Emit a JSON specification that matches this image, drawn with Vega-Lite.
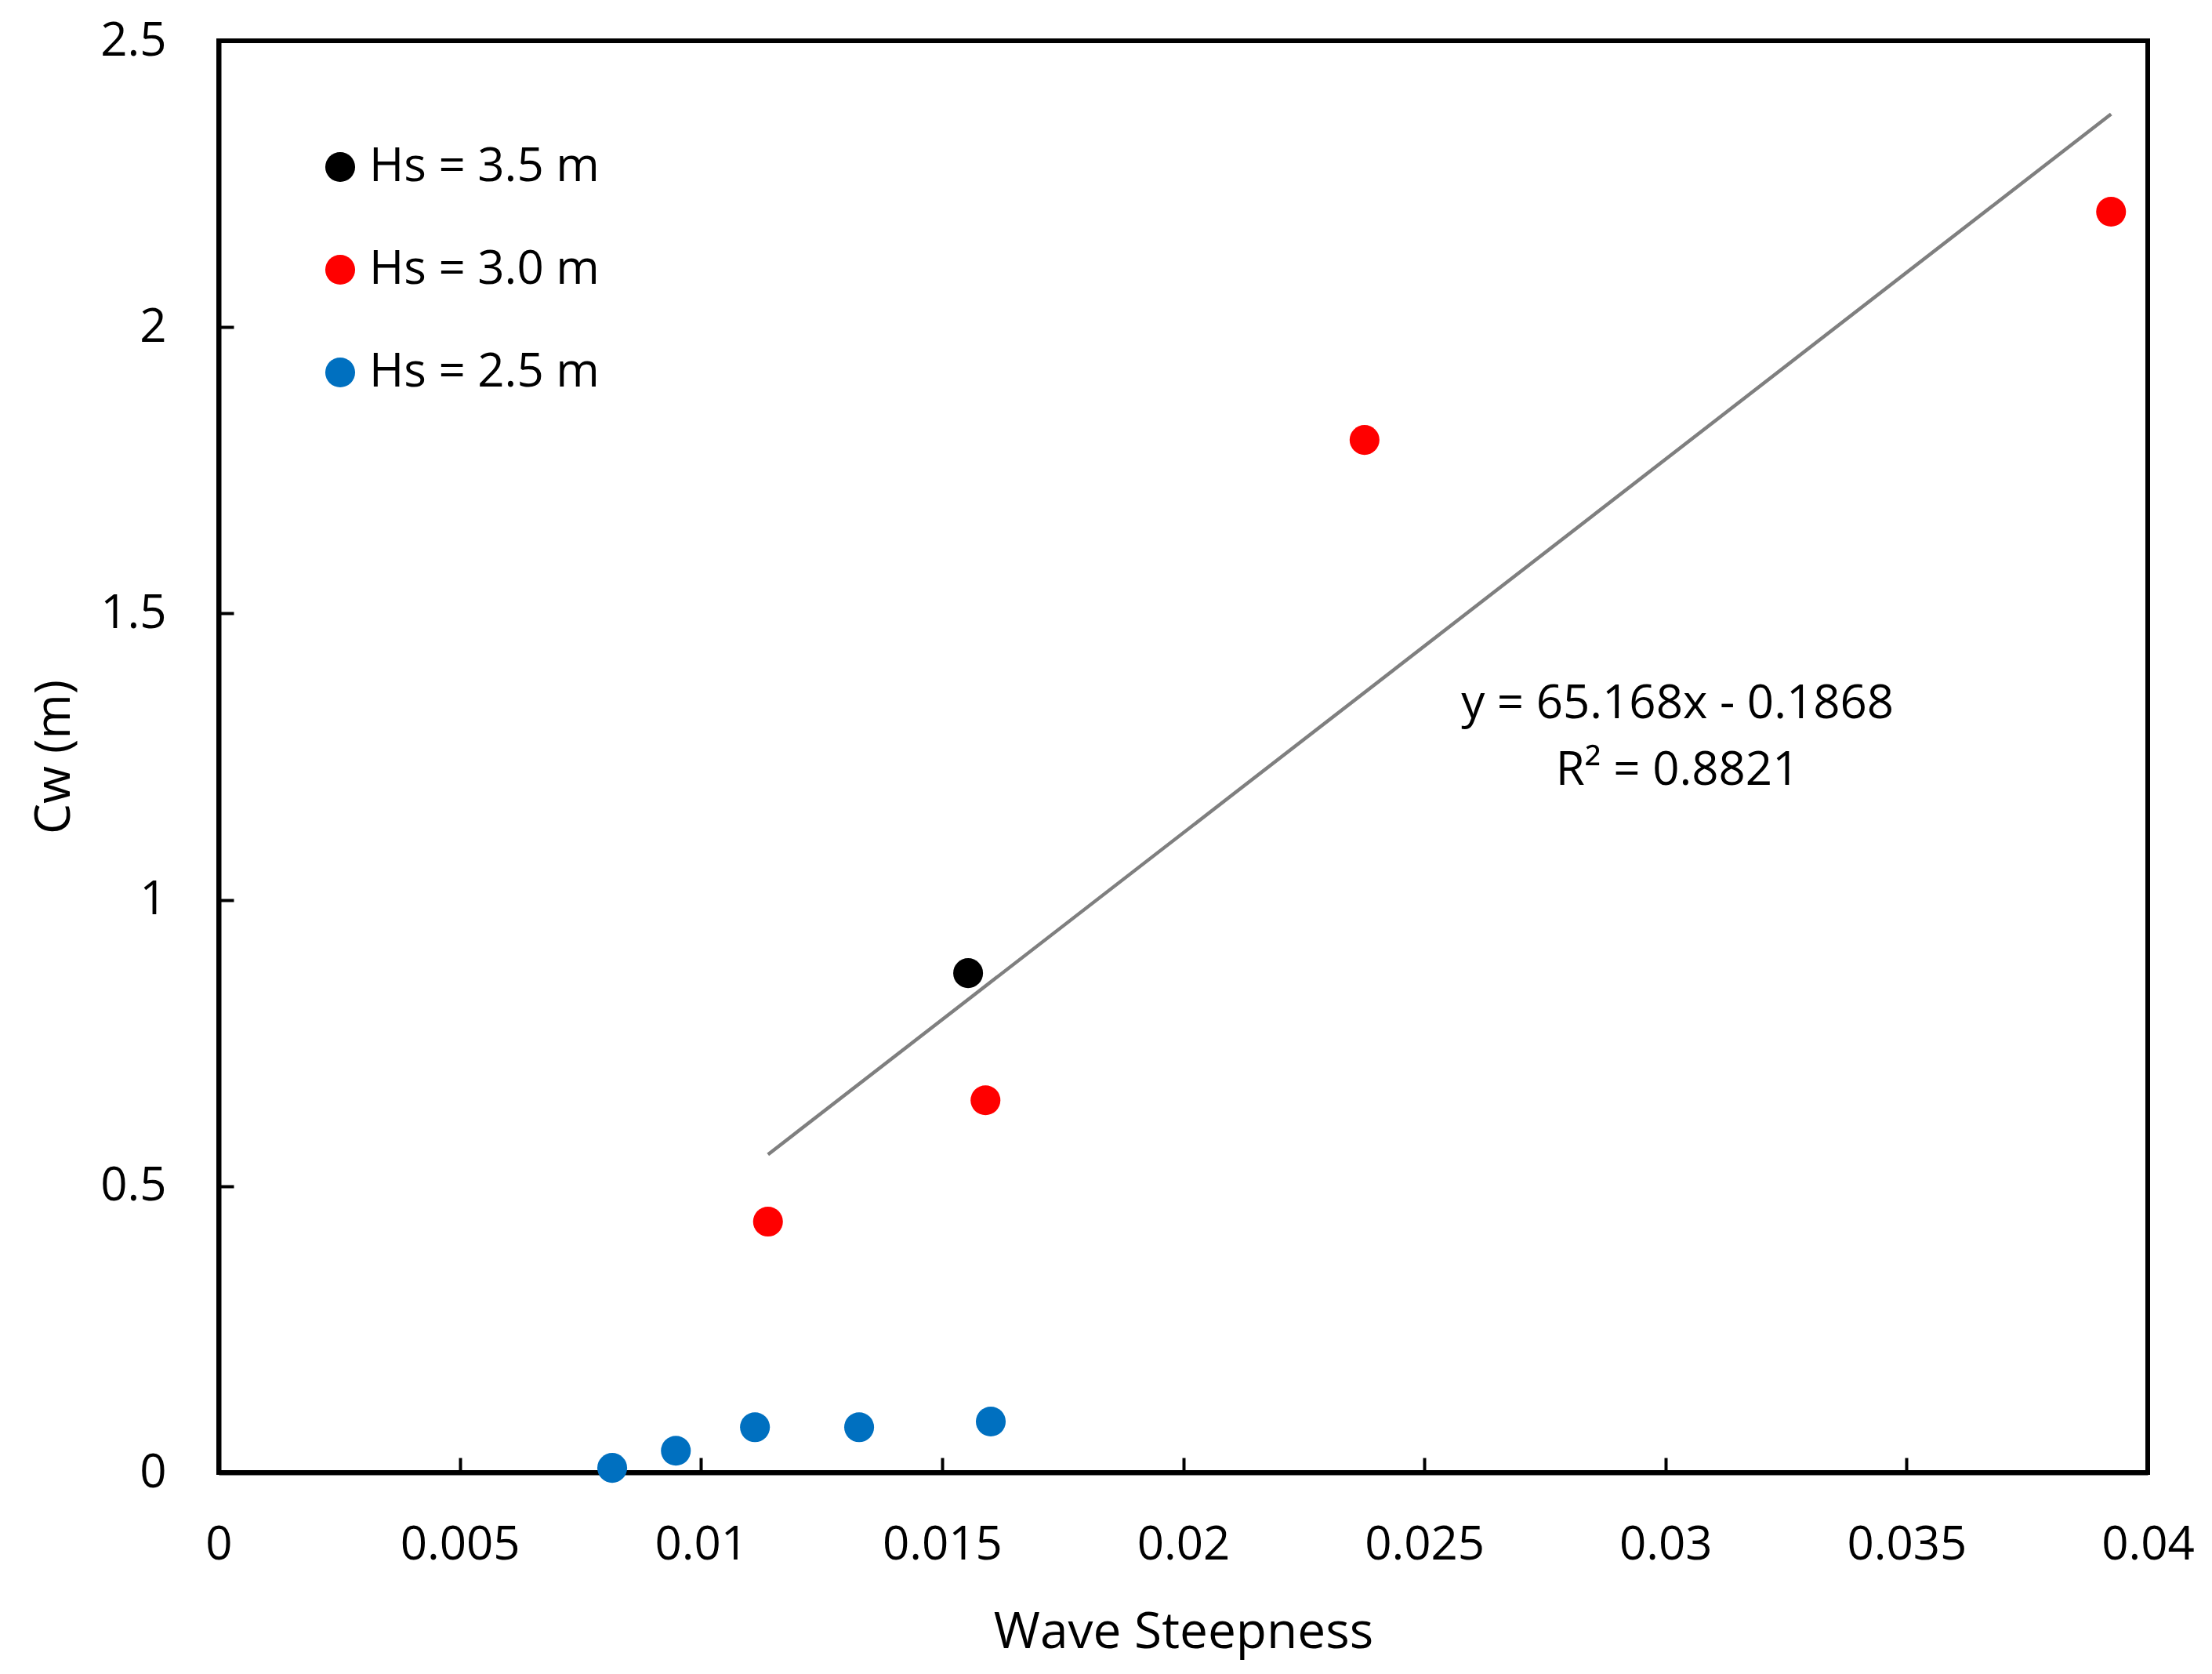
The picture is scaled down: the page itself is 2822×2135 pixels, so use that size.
{
  "$schema": "https://vega.github.io/schema/vega-lite/v6.json",
  "width": 2461,
  "height": 1826,
  "autosize": {"type": "none"},
  "padding": {"left": 279, "top": 52, "right": 82, "bottom": 257},
  "background": "white",
  "config": {
    "font": "Open Sans",
    "view": {"stroke": "black", "strokeWidth": 6},
    "axis": {
      "grid": false,
      "domainColor": "black",
      "domainWidth": 6,
      "tickColor": "black",
      "tickWidth": 4,
      "tickSize": -19,
      "labelFont": "Open Sans",
      "labelFontSize": 60,
      "labelColor": "black",
      "labelFlush": false,
      "labelOverlap": false,
      "titleFont": "Open Sans",
      "titleFontWeight": "normal",
      "titleColor": "black"
    },
    "legend": {
      "orient": "none",
      "legendX": 125,
      "legendY": 131,
      "padding": 0,
      "labelFont": "Open Sans",
      "labelFontSize": 60,
      "labelColor": "black",
      "labelLimit": 0,
      "labelOffset": 7,
      "rowPadding": 71,
      "symbolSize": 1450,
      "symbolType": "circle",
      "symbolStrokeWidth": 0
    }
  },
  "datasets": {
    "points": [
      {"s": 0.00816, "cw": 0.008, "series": "Hs = 2.5 m"},
      {"s": 0.00948, "cw": 0.038, "series": "Hs = 2.5 m"},
      {"s": 0.01112, "cw": 0.079, "series": "Hs = 2.5 m"},
      {"s": 0.01328, "cw": 0.079, "series": "Hs = 2.5 m"},
      {"s": 0.01601, "cw": 0.089, "series": "Hs = 2.5 m"},
      {"s": 0.01139, "cw": 0.438, "series": "Hs = 3.0 m"},
      {"s": 0.01590, "cw": 0.650, "series": "Hs = 3.0 m"},
      {"s": 0.02376, "cw": 1.803, "series": "Hs = 3.0 m"},
      {"s": 0.03924, "cw": 2.2015, "series": "Hs = 3.0 m"},
      {"s": 0.01554, "cw": 0.872, "series": "Hs = 3.5 m"}
    ],
    "notes": [
      {"s": 0.03025, "cw": 1.342, "label": "y = 65.168x - 0.1868"},
      {"s": 0.03025, "cw": 1.225, "label": "R² = 0.8821"}
    ]
  },
  "layer": [
    {
      "data": {"name": "points"},
      "transform": [
        {"filter": "datum.series !== 'Hs = 2.5 m'"},
        {"regression": "cw", "on": "s"}
      ],
      "mark": {"type": "line", "color": "#7f7f7f", "strokeWidth": 4.5},
      "encoding": {
        "x": {"field": "s", "type": "quantitative"},
        "y": {"field": "cw", "type": "quantitative"}
      }
    },
    {
      "data": {"name": "points"},
      "mark": {"type": "point", "filled": true, "opacity": 1, "size": 1450, "shape": "circle", "strokeWidth": 0},
      "encoding": {
        "x": {
          "field": "s",
          "type": "quantitative",
          "scale": {"domain": [0, 0.04], "nice": false, "zero": false},
          "axis": {
            "values": [0, 0.005, 0.01, 0.015, 0.02, 0.025, 0.03, 0.035, 0.04],
            "format": "~g",
            "labelPadding": 82,
            "title": "Wave Steepness",
            "titleFontSize": 64,
            "titlePadding": 50
          }
        },
        "y": {
          "field": "cw",
          "type": "quantitative",
          "scale": {"domain": [0, 2.5], "nice": false, "zero": false},
          "axis": {
            "values": [0, 0.5, 1, 1.5, 2, 2.5],
            "format": "~g",
            "labelPadding": 86,
            "title": "Cw (m)",
            "titleFontSize": 62,
            "titlePadding": 26
          }
        },
        "color": {
          "field": "series",
          "type": "nominal",
          "scale": {
            "domain": ["Hs = 3.5 m", "Hs = 3.0 m", "Hs = 2.5 m"],
            "range": ["#000000", "#FF0000", "#0070C0"]
          },
          "legend": {"title": null}
        }
      }
    },
    {
      "data": {"name": "notes"},
      "mark": {"type": "text", "font": "Open Sans", "fontSize": 60, "color": "black", "align": "center", "baseline": "middle"},
      "encoding": {
        "x": {"field": "s", "type": "quantitative"},
        "y": {"field": "cw", "type": "quantitative"},
        "text": {"field": "label"}
      }
    }
  ]
}
